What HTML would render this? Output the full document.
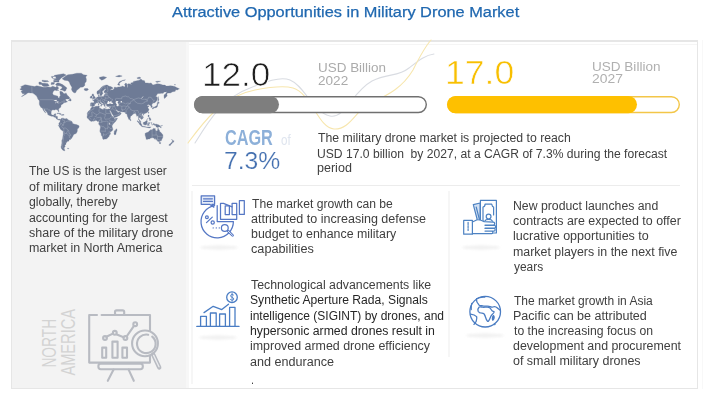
<!DOCTYPE html>
<html><head><meta charset="utf-8"><style>
html,body{margin:0;padding:0;background:#fff;}
body{width:707px;height:403px;position:relative;overflow:hidden;font-family:"Liberation Sans",sans-serif;}
.t{position:absolute;white-space:nowrap;line-height:1;transform-origin:0 0;}
.abs{position:absolute;}
</style></head><body>
<div class="abs" style="left:11px;top:40px;width:687px;height:349px;background:#e6e6e6;"></div>
<div class="abs" style="left:12px;top:42px;width:685px;height:346px;background:#fff;"></div>
<div class="abs" style="left:12px;top:44px;width:685px;height:1px;background:#f5f5f5;"></div>
<div class="abs" style="left:12px;top:42px;width:174px;height:346px;background:#f3f3f3;"></div>
<div class="abs" style="left:186px;top:42px;width:3px;height:346px;background:#f7f7f7;"></div>
<div class="abs" style="left:192px;top:184.5px;width:488px;height:1.2px;background:#ececec;"></div>
<div class="abs" style="left:191px;top:191px;width:1.5px;height:193px;background:#f6f6f6;"></div>
<div class="abs" style="left:702px;top:40px;width:1px;height:349px;background:#f8f8f8;"></div>
<div class="abs" style="left:448px;top:191px;width:1.5px;height:166px;background:#f6f6f6;"></div>
<svg class="abs" style="left:0;top:0" width="707" height="403" viewBox="0 0 707 403">
<path d="M19.8,89.2 21.6,88.1 20.7,86.7 23.4,85.4 25.0,84.7 27.0,85.1 30.1,85.8 32.3,86.1 34.5,86.6 36.8,85.8 39.0,86.2 41.2,86.7 43.4,87.3 45.7,87.3 47.9,86.9 51.0,87.3 52.3,86.2 53.7,86.6 55.5,87.3 56.8,86.2 58.1,86.9 58.6,88.5 56.3,90.3 54.6,90.3 53.2,91.6 52.6,93.6 53.4,94.9 55.5,95.6 57.9,96.2 58.1,97.7 59.2,98.3 59.5,96.8 60.4,95.6 60.1,94.3 59.9,92.7 59.9,91.3 61.7,91.4 62.8,92.3 63.7,93.6 65.3,93.8 65.9,92.8 67.3,95.2 69.0,96.8 69.8,98.0 68.8,98.9 67.9,99.0 66.1,99.0 65.0,99.4 65.9,99.7 65.7,100.6 67.5,101.7 65.3,102.6 63.5,102.7 63.2,103.7 61.7,104.4 61.0,105.4 60.8,106.2 61.0,107.0 59.9,107.8 58.6,108.9 58.6,110.1 59.0,111.2 58.8,111.9 58.3,111.3 57.8,110.6 57.7,110.0 57.0,109.7 56.1,109.5 55.0,109.5 54.8,110.1 54.1,110.0 52.8,109.8 51.4,110.7 51.2,112.0 51.1,113.4 51.4,114.4 52.3,115.1 53.7,115.1 54.3,114.6 54.3,113.9 55.9,113.7 55.7,115.1 55.4,116.2 56.3,116.2 57.5,116.6 57.4,118.4 58.3,119.3 59.2,119.1 60.1,119.5 59.9,120.1 58.8,120.1 57.7,119.6 56.5,118.9 55.7,117.5 54.1,117.1 52.8,116.2 51.7,116.3 50.1,115.7 48.6,115.1 47.7,114.4 47.6,113.2 46.5,111.8 45.2,110.6 44.4,108.9 43.7,108.9 43.9,110.1 45.0,111.6 45.7,113.0 44.8,112.3 43.9,110.9 43.2,109.9 42.5,108.4 41.9,107.7 40.9,107.4 40.3,106.2 39.5,104.9 39.3,103.6 39.4,101.4 39.1,100.1 39.9,99.7 39.0,99.2 37.9,98.6 36.8,96.5 35.4,94.9 34.1,94.0 32.3,93.1 30.5,93.0 28.7,92.7 27.2,93.3 26.1,94.3 24.7,94.9 22.5,96.2 21.4,96.5 22.9,95.6 24.3,94.6 24.7,93.8 22.5,93.8 22.3,93.0 21.2,92.0 21.4,91.0 22.9,89.9 21.2,89.9ZM59.0,82.9 62.6,84.6 64.8,86.2 67.0,88.1 66.1,89.5 65.5,91.0 64.4,91.3 62.6,90.3 61.7,89.9 60.1,89.9 62.1,88.1 62.1,86.9 59.9,85.8 56.8,85.8 55.5,84.6 57.2,82.9ZM42.1,83.3 44.8,83.3 47.9,83.7 49.2,85.8 46.5,86.6 43.9,86.6 42.1,85.4 41.6,84.2ZM39.0,82.0 41.2,82.3 42.5,84.2 39.4,84.6 38.8,83.3ZM54.6,79.8 59.0,80.4 61.2,77.9 66.1,75.0 63.5,73.7 54.6,75.3 52.3,77.9ZM53.7,80.2 59.0,80.5 59.0,82.0 53.7,81.9ZM51.4,82.5 54.6,82.5 54.1,84.2 51.0,84.6ZM42.1,80.2 47.9,80.7 48.8,81.6 44.8,82.0 42.1,81.2ZM51.4,76.4 55.5,76.4 56.3,78.4 53.7,78.8 51.9,77.9ZM55.9,89.2 59.0,90.3 56.3,90.6 55.9,89.9ZM62.1,78.8 64.4,80.2 67.9,80.7 69.3,82.0 70.1,84.2 71.0,85.8 71.9,87.3 71.5,89.5 72.4,91.3 73.3,92.3 75.0,93.1 75.7,92.5 76.8,90.3 78.2,89.2 80.4,87.3 83.1,86.9 84.8,85.4 84.8,83.3 86.2,81.6 86.4,79.3 85.7,76.9 87.1,75.3 83.5,74.8 81.3,73.2 76.8,73.2 72.4,74.3 67.9,74.8 65.7,75.9 64.4,76.9 62.6,78.4ZM84.0,89.2 84.8,88.5 87.5,88.5 88.4,89.2 88.0,90.0 86.6,90.7 84.8,90.4ZM56.8,113.5 58.1,112.9 60.4,113.4 61.6,114.3 60.1,114.5 58.8,113.5 57.0,113.7ZM61.5,115.1 62.6,114.5 63.9,114.5 64.2,115.1 63.0,115.3 61.5,115.3ZM68.2,100.5 69.7,99.3 69.9,98.2 71.0,99.4 71.2,100.6 70.7,101.0 69.9,100.9 69.3,100.5ZM60.2,119.6 60.8,119.1 61.0,118.7 61.7,118.3 62.6,117.9 62.8,118.4 63.5,118.2 64.4,118.7 65.7,118.8 67.0,118.6 67.5,119.3 68.8,120.2 70.1,120.7 71.5,121.1 71.9,121.6 72.4,122.5 72.4,123.3 73.3,123.8 74.8,124.3 76.4,124.6 77.5,125.0 79.0,125.7 79.1,126.7 78.9,127.5 78.2,128.2 77.4,129.1 77.3,131.2 76.8,132.3 76.4,133.2 75.5,133.7 74.6,134.0 73.3,134.9 73.0,136.0 72.4,137.0 71.3,138.7 70.6,139.4 69.5,139.4 69.0,140.2 69.0,141.1 67.0,141.5 66.9,142.4 65.7,142.6 66.1,143.2 65.7,144.7 64.6,145.4 65.3,146.2 64.2,147.7 64.2,148.9 65.0,150.5 64.1,150.8 63.0,150.2 61.7,149.0 61.0,146.9 61.5,145.2 61.9,143.1 61.8,140.6 62.6,138.7 62.8,137.0 63.3,133.9 63.3,131.6 62.8,131.1 60.8,129.6 60.1,128.4 59.2,126.7 58.4,125.5 59.0,124.7 58.8,123.8 59.0,122.9 59.6,122.5 60.1,121.6 60.2,120.2ZM90.7,106.2 90.4,105.3 90.7,103.6 90.5,103.0 91.1,102.7 92.9,102.8 94.0,102.8 94.1,101.4 93.5,100.7 92.5,100.1 94.0,99.9 94.1,99.3 94.7,99.4 95.4,98.9 96.2,98.3 96.6,97.7 96.9,97.2 97.8,97.1 98.5,96.8 98.5,95.9 98.2,95.1 99.1,94.5 99.3,95.4 99.1,96.2 99.5,96.8 100.7,96.6 101.8,96.6 102.9,96.4 104.0,96.2 104.0,95.2 104.4,94.6 105.3,94.8 105.3,94.0 105.1,93.5 107.1,93.3 108.0,93.1 107.6,92.9 105.8,92.8 104.7,93.0 104.1,92.3 104.2,91.0 105.8,89.5 106.0,89.0 104.7,89.0 104.0,89.9 103.1,90.6 102.4,91.3 102.3,92.3 103.0,93.0 102.9,93.5 102.0,94.6 101.8,95.4 101.1,95.6 100.3,95.9 100.2,95.2 99.9,94.3 99.5,93.6 99.3,93.3 98.2,94.3 97.3,94.2 97.0,93.3 96.9,92.3 97.1,91.3 98.2,90.6 99.1,89.9 100.2,88.8 100.9,87.7 101.8,86.9 103.1,85.9 104.9,85.4 106.2,85.0 107.3,85.1 108.4,85.8 109.3,86.3 110.7,86.6 112.5,87.5 113.0,88.5 111.6,88.8 110.1,89.9 110.9,90.3 111.6,89.7 112.7,89.9 114.2,88.8 114.2,87.3 115.1,87.2 116.5,87.6 118.2,86.9 119.1,87.1 120.5,86.7 121.4,86.9 121.8,85.9 123.1,86.3 124.9,86.9 125.1,85.4 124.5,84.6 125.4,83.3 126.7,83.5 126.9,85.0 127.6,87.7 128.0,86.9 127.4,84.3 128.5,83.7 130.3,84.0 131.6,85.0 130.7,82.9 133.2,82.5 133.4,81.4 136.9,80.7 139.2,80.2 141.0,79.1 142.3,80.2 144.5,80.7 145.2,82.9 147.2,82.9 149.4,83.3 151.2,82.9 152.1,84.2 153.0,85.0 154.8,84.6 157.0,83.7 159.7,83.9 161.4,84.6 162.8,85.1 165.0,85.1 166.1,86.1 168.1,86.1 170.3,85.8 172.6,86.0 174.8,86.6 177.0,87.7 179.4,88.8 177.9,89.5 177.7,90.0 175.7,89.7 175.2,91.3 174.3,91.4 172.6,91.8 171.7,92.3 170.3,93.0 168.6,93.0 167.4,93.1 166.8,94.3 167.2,95.4 166.8,96.3 165.9,97.3 165.0,98.0 164.4,98.6 164.1,97.4 164.0,95.6 164.5,94.4 165.2,94.3 166.3,92.8 167.2,91.8 165.9,91.9 164.1,92.0 163.2,93.3 161.4,93.3 159.7,93.5 157.9,93.6 157.0,94.5 155.6,96.8 156.8,96.7 157.4,97.7 157.2,99.2 157.0,100.3 156.1,101.4 154.8,102.8 153.4,103.0 152.8,103.3 152.3,104.1 151.6,104.9 152.3,106.2 152.2,107.1 151.2,107.4 150.9,107.4 151.0,106.2 150.3,105.7 150.1,104.7 149.0,105.2 148.5,104.2 147.6,105.0 147.1,105.2 147.5,105.9 147.6,106.2 148.3,105.8 149.2,106.2 148.1,106.9 147.8,107.3 148.4,108.7 148.9,109.3 148.9,109.9 148.3,110.9 147.9,111.8 146.7,112.7 145.4,113.3 143.8,113.9 143.6,114.2 143.4,113.6 142.3,113.7 141.8,114.4 141.7,114.9 142.1,115.5 143.1,116.4 143.3,118.0 142.5,118.7 141.4,119.5 141.3,118.9 140.5,118.4 140.2,117.9 139.5,117.4 139.2,117.8 138.8,118.9 139.3,119.8 139.4,120.2 140.1,120.6 140.7,121.3 140.7,122.2 141.0,122.7 140.6,122.8 139.7,122.1 139.3,121.1 139.3,120.5 138.5,119.7 138.5,118.9 138.5,118.0 138.1,116.1 137.9,115.8 136.7,116.2 136.6,115.0 135.8,114.0 135.6,113.3 134.9,113.4 134.0,113.6 133.3,114.0 132.5,114.7 131.3,115.9 130.4,116.6 130.4,117.5 130.2,118.8 129.4,119.7 129.2,119.7 128.7,119.3 128.3,118.0 127.8,116.9 127.4,116.2 127.1,114.8 127.0,113.8 126.0,114.0 125.4,113.3 125.9,113.0 125.1,112.7 124.3,111.9 122.2,111.9 120.8,111.8 120.2,111.7 119.7,111.1 118.9,111.3 117.6,110.7 117.0,109.7 116.0,109.7 116.2,110.4 116.9,111.3 117.3,112.1 117.6,112.4 117.6,111.6 118.0,112.4 118.7,112.5 119.6,111.6 119.7,112.2 120.8,112.7 121.3,113.2 120.7,114.1 120.4,114.8 119.8,115.3 119.3,115.6 117.8,116.2 116.5,116.9 114.7,117.6 113.9,117.7 113.7,116.4 113.6,116.0 113.0,115.0 112.1,113.7 111.9,113.2 111.3,112.1 110.9,111.6 110.2,110.6 110.1,109.9 109.9,110.6 109.6,110.5 109.1,109.7 109.0,109.1 109.9,109.0 110.2,108.2 110.6,106.9 110.7,106.3 110.0,106.3 109.1,106.6 108.2,106.5 107.1,106.3 106.8,105.8 106.4,105.4 106.4,104.5 106.2,104.2 105.3,104.3 104.9,104.5 104.7,104.4 104.9,105.2 105.3,105.6 104.9,106.0 104.7,106.5 104.3,106.3 104.2,105.6 103.9,105.3 103.5,104.8 103.3,104.1 103.3,103.6 102.9,103.3 102.2,102.9 101.5,102.5 101.1,101.8 100.7,101.6 100.1,101.8 100.1,102.2 100.7,102.8 101.1,103.5 101.8,103.9 102.9,104.5 102.2,104.4 102.0,105.2 101.6,105.7 101.7,104.9 101.3,104.5 100.8,104.0 100.0,103.7 99.5,103.3 99.3,102.9 98.6,102.3 98.0,102.6 97.3,103.0 96.6,102.8 96.1,103.0 96.0,103.7 95.0,104.1 94.6,104.7 94.5,105.5 94.3,105.9 93.7,106.3 92.7,106.3 92.1,106.7 91.8,106.3 91.3,106.1ZM92.1,99.2 93.3,98.8 95.3,98.5 95.4,97.6 94.8,97.1 94.6,96.5 93.9,95.8 93.7,94.9 93.8,94.5 92.9,94.5 93.3,93.9 92.4,93.9 92.1,94.7 91.9,95.4 92.4,96.0 93.3,96.2 93.2,96.8 93.3,97.2 92.6,97.3 92.8,97.7 92.3,98.2 93.3,98.3 92.8,98.5ZM92.0,98.0 91.9,97.2 92.1,96.5 91.8,96.1 90.9,96.1 90.3,96.9 90.1,98.1 91.1,98.2ZM100.2,105.7 101.6,105.5 101.4,106.3 100.2,105.8ZM98.4,105.2 98.9,105.2 99.0,104.1 98.3,104.1ZM98.5,103.4 98.9,103.2 98.8,103.9 98.6,103.8ZM105.1,106.9 106.4,107.0 106.2,107.2 105.1,107.1ZM109.0,107.2 110.0,106.9 109.8,107.4 109.1,107.3ZM117.6,84.6 118.2,85.1 120.0,85.3 119.1,83.7 120.0,82.5 122.2,80.9 124.9,80.2 125.4,79.8 123.1,80.2 120.5,81.2 119.1,82.0 118.5,83.3 117.8,84.2ZM99.5,78.4 101.8,80.2 104.0,79.3 106.7,77.4 103.5,76.4 100.9,77.1 99.5,77.2ZM115.6,76.4 119.1,75.3 122.2,76.1 119.1,76.9ZM136.9,77.9 139.2,77.1 141.0,77.9 139.2,78.8 137.4,78.6ZM155.6,81.6 157.9,81.2 160.5,81.3 157.0,82.5ZM174.1,84.6 175.7,84.7 175.0,85.1ZM157.9,101.4 158.5,101.1 158.3,99.7 159.0,99.7 158.3,98.0 158.3,96.6 158.1,96.7 157.9,98.6 157.9,100.3ZM157.0,103.8 157.4,103.9 157.8,103.3 158.5,103.6 159.4,102.9 159.0,102.5 157.9,101.7 157.7,102.3 157.6,102.9 157.2,102.9 157.0,103.4ZM157.4,104.0 157.6,104.4 157.9,104.9 157.4,105.7 157.3,106.3 157.3,106.9 156.9,107.2 156.4,107.4 155.6,107.4 155.6,107.9 154.8,107.8 154.4,107.4 153.6,107.5 153.0,107.7 152.9,107.5 153.6,107.0 155.0,106.9 155.4,106.2 155.8,106.3 156.3,106.0 156.8,105.4 157.0,104.5 157.1,104.0ZM152.4,107.9 153.0,107.7 153.4,108.2 153.2,109.0 152.6,109.1 152.4,108.3ZM153.6,108.2 154.6,107.6 154.6,107.8 153.9,108.3ZM148.1,113.0 148.5,111.9 149.0,112.0 148.5,113.4ZM143.0,114.7 143.8,114.3 144.1,114.5 143.4,115.2ZM148.1,115.1 149.1,115.1 149.0,116.1 148.7,117.0 149.9,117.5 149.4,117.3 148.3,117.0 148.1,116.2ZM149.0,120.2 151.0,120.2 150.8,119.1 150.5,119.0 149.6,119.5 149.0,120.0ZM149.0,118.2 150.1,117.8 150.6,118.4 149.9,119.0 149.2,118.9 149.0,118.4ZM146.8,119.6 147.9,118.3 147.8,118.7 147.1,119.6ZM143.2,122.5 143.6,122.6 144.1,122.1 145.0,121.9 145.4,121.3 146.1,121.0 146.7,120.3 147.1,120.7 147.7,121.0 147.2,121.4 147.0,121.9 147.2,122.9 147.6,122.9 147.0,123.6 146.5,124.3 146.4,125.0 145.6,125.1 145.0,124.7 144.4,124.7 143.7,124.6 143.6,123.9 143.2,123.4ZM137.1,120.8 138.1,121.0 138.4,121.5 139.3,122.4 139.7,122.4 140.7,123.1 141.2,123.8 141.8,124.7 141.8,125.9 141.2,125.9 140.2,125.1 139.6,124.4 139.2,123.6 138.7,123.0 137.9,122.0 137.0,121.1ZM141.5,126.3 142.1,126.0 142.8,126.1 143.8,126.4 144.7,126.4 145.6,126.8 145.6,127.2 144.1,127.0 142.7,126.8 142.1,126.6 141.6,126.4ZM145.8,127.0 147.6,127.0 148.1,127.1 149.4,127.0 150.3,126.9 151.2,127.0 150.3,127.5 149.6,127.9 148.1,127.7 146.3,127.3ZM147.8,125.8 148.3,125.8 148.2,124.6 148.6,124.6 148.9,125.4 149.4,125.2 149.0,124.7 148.7,124.1 149.3,124.0 149.6,123.7 148.9,123.7 148.3,123.9 148.1,123.2 148.7,123.1 149.9,123.2 150.3,122.7 150.1,122.8 148.4,122.8 148.0,123.2 147.8,123.7 147.5,124.6ZM151.4,122.4 152.0,122.7 151.6,123.3 151.9,123.7 151.4,123.6 151.5,122.9ZM151.6,124.7 152.9,124.8 152.8,125.0 151.7,124.9ZM153.0,123.9 153.6,123.5 154.4,123.7 154.8,124.8 155.9,124.0 157.4,124.5 159.0,125.0 159.7,125.8 160.3,126.0 160.5,126.9 161.4,127.9 161.0,128.0 159.7,126.9 158.9,126.7 158.5,127.3 157.4,127.4 156.5,126.9 156.1,127.1 156.0,125.7 155.0,125.3 153.9,125.1 153.4,124.6 154.1,124.3 153.4,124.3ZM160.7,125.8 161.7,125.8 162.3,125.2 162.5,125.3 162.1,125.8 161.4,126.1 160.8,126.0ZM145.2,133.2 145.1,135.1 145.5,136.3 145.8,137.3 146.2,138.7 145.8,139.1 147.1,139.5 148.0,139.0 149.6,138.9 150.7,138.1 152.1,137.8 153.1,137.7 154.3,138.4 155.0,139.4 155.4,138.7 156.0,138.2 155.9,139.6 156.3,139.3 156.8,139.9 157.2,141.0 158.5,141.4 159.8,141.6 160.5,140.9 161.4,140.7 161.5,140.0 162.0,138.9 162.7,137.7 163.0,136.1 162.8,134.8 161.8,133.5 161.0,132.5 159.8,131.8 159.4,130.5 159.3,129.9 158.6,129.6 158.1,128.1 157.7,129.1 157.6,130.2 157.3,131.1 156.7,131.1 155.9,130.4 155.0,129.9 155.6,128.8 155.2,128.7 154.1,128.5 153.4,128.4 152.7,128.9 152.4,129.9 151.7,130.0 151.1,129.5 150.5,129.8 150.1,130.6 149.1,131.1 148.5,132.1 147.0,132.6 145.7,133.1ZM159.0,142.4 160.7,142.5 160.5,143.7 160.0,143.9 159.3,143.2ZM171.5,139.2 172.4,140.1 173.0,140.7 174.1,140.8 173.9,141.6 173.4,142.0 172.7,142.9 172.4,142.7 172.6,142.1 172.0,141.6 172.4,141.0 172.3,140.2ZM171.5,142.3 172.3,142.7 172.1,143.2 171.5,143.9 170.9,144.3 170.6,145.2 170.0,145.6 168.8,145.2 169.2,144.4 170.6,143.6 171.2,142.8ZM130.2,119.0 130.7,119.6 131.1,120.1 131.0,120.6 130.5,120.7 130.2,120.2 130.2,119.6ZM109.1,109.7 109.0,109.1 108.4,108.9 108.0,109.0 107.6,109.2 105.8,108.9 104.9,108.4 103.6,108.6 103.5,109.2 103.1,109.5 101.5,108.9 100.5,108.2 99.5,108.1 99.1,107.6 99.5,107.0 99.2,106.3 99.5,106.1 98.9,106.0 97.8,106.2 96.0,106.3 94.2,106.9 93.5,107.1 92.2,106.7 91.9,106.8 91.6,107.7 90.9,108.1 90.4,109.5 90.2,110.1 89.5,110.6 88.9,110.8 88.2,111.6 87.7,112.5 87.5,112.6 87.1,113.9 87.4,114.6 87.3,116.1 87.0,116.8 87.2,117.5 87.2,117.9 88.0,118.4 88.6,119.0 88.9,119.6 89.5,120.3 90.6,121.1 91.3,121.4 92.9,121.0 93.7,121.2 95.3,120.6 96.6,120.5 97.1,121.1 97.5,121.4 98.4,121.3 98.9,121.6 99.0,122.2 98.8,123.3 98.6,124.1 99.5,125.0 100.1,125.9 100.5,127.1 100.2,128.9 99.9,130.5 99.9,131.4 100.4,132.5 101.1,133.6 101.3,135.3 102.0,136.3 102.6,137.7 102.8,138.9 102.9,139.1 103.5,139.4 104.7,139.0 106.1,139.0 106.9,138.6 108.0,137.6 109.1,136.3 109.3,135.1 110.4,134.2 110.4,133.2 110.1,132.3 111.0,131.4 112.2,130.7 112.8,129.8 112.7,128.2 112.2,127.1 112.0,126.0 112.4,125.1 112.9,124.2 113.6,123.6 114.2,122.7 115.3,121.8 116.2,120.5 117.1,118.9 117.5,118.1 116.7,118.3 115.6,118.5 114.2,118.7 113.9,118.1 113.6,117.5 112.7,116.5 112.0,115.8 111.3,115.1 111.2,113.9 111.0,113.4 110.4,112.5 110.0,111.7 109.6,110.9 109.2,109.9ZM116.6,128.7 117.1,130.2 116.8,130.7 116.2,132.5 115.8,134.4 114.8,134.9 114.1,133.9 114.0,133.0 114.4,132.1 114.2,130.9 115.3,130.4 116.0,129.3ZM67.3,148.2 68.9,148.4 68.6,148.9 67.7,148.8ZM37.5,98.7 39.0,100.0 39.7,100.1 38.8,99.0Z" fill="#6e7b96" stroke="#6e7b96" stroke-width="0.3" stroke-linejoin="round"/>
<path d="M116.5,101.1 117.4,100.9 118.2,101.0 118.3,101.8 117.5,102.1 118.2,103.6 118.7,104.4 118.6,106.0 117.4,106.3 116.5,105.9 116.7,104.6 117.0,104.5 116.0,103.6 115.8,103.0 115.6,102.2 115.8,101.6ZM107.1,103.8 107.6,104.0 108.7,104.0 109.6,103.6 110.4,103.6 111.6,104.1 113.1,103.8 113.2,103.3 112.5,102.8 111.6,102.2 110.9,101.9 110.4,102.0 109.6,102.2 109.1,101.8 109.6,101.4 108.7,101.1 108.2,101.1 107.8,101.8 107.4,102.5 107.1,103.2ZM110.2,101.8 110.2,101.2 111.8,100.8 111.6,101.4 110.9,101.9ZM53.7,101.0 55.0,100.1 56.3,99.8 57.0,100.9 55.9,101.1ZM55.5,103.6 55.8,101.4 56.6,101.5 56.2,103.0ZM57.0,102.8 57.2,101.4 58.6,101.5 58.3,102.6ZM120.7,101.1 122.0,101.1 121.8,102.5 120.9,102.5ZM108.9,123.3 109.8,123.3 109.8,124.6 108.9,124.4ZM141.0,98.2 141.8,97.7 143.4,95.9 143.6,95.9 142.3,98.0 141.2,98.4Z" fill="#f3f3f3"/>
<path d="M39.9,99.7 52.3,99.7 55.0,100.3 57.0,101.1 57.9,101.7 57.9,103.6 59.5,102.9 60.8,102.5 61.4,102.0 62.8,102.0 63.7,100.6 64.4,100.7 64.4,101.6 64.8,102.0M31.9,86.1 31.9,92.8 33.6,93.6 35.4,95.6 36.8,95.9M42.5,108.4 43.6,108.3 45.2,109.0 46.5,109.0 47.2,108.8 48.3,109.9 49.0,109.7 49.7,109.9 50.3,110.9 51.4,111.6M53.6,116.9 53.7,115.4 54.1,115.4 54.9,115.4 55.3,115.1M71.7,121.4 67.9,121.0 66.1,121.6 64.8,122.7 63.6,122.6 63.7,123.8 63.5,125.2 62.1,125.5 61.7,126.7 62.4,127.8 63.7,128.2 65.5,127.8 66.4,128.9 67.7,129.5 67.9,130.6 68.7,130.6 69.0,132.3 68.8,133.2 69.9,133.5 70.4,134.9 70.7,135.5 69.5,136.3 69.0,137.1 70.1,137.7 70.9,138.8M64.1,148.9 62.6,147.5 62.0,145.8 62.7,144.2 62.8,142.0 63.2,140.0 63.5,138.5 63.2,136.5 64.1,135.6 64.2,134.2 64.7,133.6 66.8,133.3 67.5,134.1 68.8,135.7 70.4,134.9M63.7,128.2 63.9,130.0 63.7,131.2 63.3,131.5M64.7,133.6 64.1,131.6 63.7,131.2M62.6,118.4 62.4,120.1 64.6,120.7 64.4,122.4 63.6,122.6M58.9,124.8 59.7,125.5 61.0,123.8 61.1,123.3 62.1,124.4 63.5,125.2M60.1,123.0 61.1,123.3M67.9,130.6 66.8,132.3 66.8,133.3M100.0,93.6 100.2,92.0 100.0,90.6 101.1,89.2 102.0,87.7 103.5,86.6 104.4,86.6M105.3,89.0 105.1,87.7 104.0,86.6M107.3,86.2 107.6,88.1 108.0,91.0 107.1,92.3M107.1,93.3 106.9,94.6 107.1,95.6 108.4,95.9 108.9,97.4 110.2,97.8 110.7,98.9 112.5,99.2 112.5,100.3 111.8,100.8M116.0,101.1 115.6,99.7 115.3,98.9 116.9,98.3 119.1,98.6 121.8,98.7 121.8,97.1 123.6,96.4 125.8,96.0 127.1,96.8 128.5,96.8 129.4,97.6 130.3,98.6 131.8,98.6 133.6,99.6M133.6,99.6 135.6,98.9 138.3,98.0 140.1,98.3 142.7,99.4 145.4,99.2 146.7,99.3 147.9,99.2 148.7,97.2 151.2,97.4 153.0,100.3 154.5,100.1 153.0,102.0 153.0,103.3 152.8,103.4M133.6,99.6 135.2,101.7 137.6,103.3 141.4,103.8 144.1,103.0 144.3,102.0 146.3,101.5 147.9,100.9 147.1,100.2 146.3,100.3 145.6,99.2M127.4,104.9 128.0,106.2 129.4,106.9 130.0,108.4 130.7,109.6 132.5,110.5 133.8,110.7 135.6,110.7 137.8,110.5 138.5,112.0 138.3,112.5 139.6,113.7 140.1,113.2 141.8,113.1 142.7,113.7M127.4,104.9 128.0,104.4 130.3,103.6 130.5,102.0 131.6,100.9 132.7,100.9 133.6,99.6M118.2,103.7 119.6,104.0 120.5,101.7 121.8,102.5 124.0,103.0 125.6,104.1 126.3,103.4 127.8,103.0 130.3,103.6M114.2,104.9 114.5,105.9 114.9,107.2 115.3,108.2 116.0,109.4M118.6,106.0 119.8,105.7 121.8,106.4 121.8,107.4 121.7,109.7 122.5,110.0 122.0,111.9M121.7,109.7 124.0,109.9 125.6,108.9 125.8,107.7 126.5,106.4 127.8,106.2M121.8,106.4 123.6,106.0 124.9,106.1 126.5,106.4M125.0,112.6 126.3,112.3 125.8,110.6 127.6,109.2 128.0,108.4 128.9,106.9M130.3,109.7 130.7,109.6M134.0,111.4 133.8,112.5 134.2,113.4M135.8,113.9 135.6,112.5 134.7,111.9 134.0,111.4M138.5,118.9 138.7,116.2 138.3,115.5 139.2,114.2M140.1,113.2 141.0,114.8 142.3,116.2 142.5,117.1 141.8,118.4M140.3,118.0 140.7,117.0 141.6,117.0M139.2,114.2 139.6,115.3 140.5,115.3 141.6,117.0M110.9,109.9 112.0,108.7 113.3,109.1 114.5,110.0 115.3,110.1 116.0,110.4M113.8,115.6 115.3,115.6 117.8,114.8 119.4,114.4 119.6,113.2M110.7,106.3 111.6,106.3 113.5,106.1 114.6,106.1M113.5,106.1 112.9,107.4 112.0,108.5M106.4,103.8 107.1,103.6M93.8,102.9 94.9,103.2 96.1,103.4M91.5,103.6 91.5,104.9 91.3,105.9M95.8,98.6 96.6,99.2 97.3,99.4 98.2,99.7 98.0,100.5 97.3,101.2 97.8,101.7 98.0,102.5M101.0,96.8 101.2,98.0 101.3,98.6M97.3,98.1 97.3,98.9 97.3,99.4M100.0,99.0 100.8,99.9 100.4,100.6 99.1,100.6 98.0,100.5M101.3,98.6 103.1,99.4 104.7,99.7M102.2,100.0 102.2,101.1 103.1,101.5 104.0,101.4 104.7,100.3 104.7,99.7M97.8,101.5 99.1,101.1 100.2,100.9 100.7,101.1M103.3,102.0 104.7,102.4 104.9,103.0 104.7,104.0 106.4,103.8M104.7,100.3 106.4,100.1 107.3,101.1 107.8,101.8M105.1,96.8 105.2,98.0 105.3,98.9 104.7,99.7M105.2,98.0 107.1,98.2 108.7,97.9 108.9,97.4M104.0,95.6 106.2,95.7 106.9,95.4 107.1,94.4M98.5,96.2 99.1,96.3M105.8,108.9 105.8,113.4 111.1,113.4M99.8,108.1 99.1,109.7 98.9,111.3 99.9,112.7M99.9,112.7 101.3,113.0 105.3,114.6 105.3,114.4 105.8,114.4M93.9,107.2 94.0,108.7 93.0,109.4 90.8,110.4 90.8,110.9M92.5,112.0 95.1,113.9 96.5,114.7 97.3,114.6 99.9,112.7M87.1,113.8 88.9,113.8 88.9,113.0 89.3,111.6 90.8,110.9M89.3,116.7 89.6,116.4 92.2,116.4 92.2,116.0 91.7,112.1 92.5,112.0M96.5,114.7 96.2,116.5 95.1,116.6 94.6,116.7M96.2,118.1 97.8,117.5 99.1,117.4 100.7,117.3 101.1,117.5M105.3,114.6 105.1,116.3 104.4,117.8 104.7,118.4 105.1,119.3M105.1,119.3 106.7,119.1 109.3,118.9 109.8,118.7M109.8,118.7 110.9,117.0 111.6,116.9 113.2,117.5M109.3,119.8 110.2,121.1 113.2,121.6 113.8,121.2 116.0,119.8 113.9,119.1M101.1,120.7 103.1,121.4 104.7,121.5 106.9,121.1 108.2,121.7M108.2,121.7 107.8,124.0 107.6,125.3 108.2,127.1 107.3,127.3 107.3,128.2 107.8,128.9 106.7,128.7 105.3,128.2 104.4,127.8 103.5,126.4 102.4,126.9 101.8,126.0 100.1,125.9M99.9,131.0 105.1,131.3 105.9,131.3M103.5,133.2 103.5,136.0 102.2,136.3M103.5,134.6 105.8,135.0 107.6,133.3M109.3,130.9 109.1,133.4 108.6,133.4M112.6,128.0 111.3,128.5 110.0,128.4M112.1,125.4 109.8,123.8 109.7,123.8 109.8,121.5M112.9,124.1 112.9,122.1 113.3,121.6M88.5,117.7 90.0,117.9 90.9,118.8 91.1,119.6M93.3,121.1 93.4,119.1 94.4,118.4 94.7,118.4 95.2,120.6M98.4,121.2 98.9,120.5 99.9,120.2 100.7,118.8 101.1,117.6M101.1,117.5 101.5,119.1 101.1,120.7 101.8,122.4 102.7,121.8M99.0,122.3 99.7,122.4 100.4,122.4 101.8,122.4M105.3,128.2 105.3,131.3M108.2,127.1 109.3,127.5 110.0,128.4M152.1,130.0 152.1,137.8M152.1,135.1 157.4,135.1M156.1,130.9 156.1,135.1M157.4,135.1 157.4,136.5 163.0,136.3M157.4,136.5 157.4,141.0M157.4,139.0 161.4,140.7" fill="none" stroke="#e6e9ef" stroke-width="0.45" stroke-opacity="0.45"/>
<defs><filter id="blur1" x="-20%" y="-200%" width="140%" height="500%"><feGaussianBlur stdDeviation="1"/></filter></defs>
<!-- wavy decorative lines -->
<g fill="none" stroke-width="1.1" stroke-linecap="round">
<path d="M195,143 C208,122 222,98 250,88 C265,82 280,76 290,80 C305,86 312,112 330,116 C345,119 352,92 372,81 C388,73 398,77 409,68 C418,61 425,55 434,54" stroke="#d9dce2"/>
<path d="M188,143 C202,124 222,96 255,90 C270,87 283,85 293,88 C312,94 318,128 334,129 C350,130 356,110 369,104 C385,96 401,90 413,70 C419,58 424,48 431,40" stroke="#f7e6ad"/>
</g>
<!-- bars -->
<rect x="194.7" y="96.7" width="231.6" height="15.8" rx="7.9" fill="#fff" stroke="#707070" stroke-width="1.4"/>
<rect x="194" y="96" width="85" height="17.2" rx="8.6" fill="#7e7e7e"/>
<rect x="447.7" y="96.7" width="231.6" height="15.8" rx="7.9" fill="#fff" stroke="#f3c648" stroke-width="1.4"/>
<rect x="447" y="96" width="190" height="17.2" rx="8.6" fill="#fec000"/>
<!-- shadows -->
<g fill="#eeeeee" opacity="0.8" filter="url(#blur1)">
<ellipse cx="219" cy="247.5" rx="19" ry="2.2"/>
<ellipse cx="218" cy="337.5" rx="19" ry="2.2"/>
<ellipse cx="481" cy="247.5" rx="19" ry="2.2"/>
<ellipse cx="485" cy="335.5" rx="19" ry="2.2"/>
</g>
<!-- icon1: pie + bars + bubble -->
<g fill="none" stroke="#5577c4" stroke-width="1.25" stroke-linejoin="round" stroke-linecap="round">
<path d="M214.6,205.6 A16.2,16.2 0 1 0 233.4,221.6 L217.2,221.6 V205.6"/>
<path d="M201.2,195.8 H214.6 V204.3 H212 L213.8,207.2 L209.6,204.3 H201.2 Z" fill="#e4ebf8"/>
<path d="M203.5,198.8 H212.4 M203.5,201.4 H212.4"/>
<path d="M220.5,203.3 V219.3 H236.7 V214.6 M220.5,203.3 H223.5 L232.1,206.8"/>
<rect x="225.2" y="205.9" width="4.2" height="8.7"/>
<rect x="232.1" y="203.3" width="4.6" height="11.3"/>
<rect x="239.4" y="200.5" width="4.9" height="13.9"/>
<circle cx="206.9" cy="217.2" r="1.4"/>
<circle cx="212.7" cy="222.5" r="1.6"/>
<path d="M206.5,222.6 L212.3,217.1"/>
<circle cx="224.8" cy="227.9" r="3.4" fill="#fff"/>
<path d="M228.3,231.3 L232.6,235.4" stroke-width="2.6"/>
<path d="M228.3,231.3 L232.6,235.4" stroke-width="0.8" stroke="#fff"/>
</g>
<g fill="#5577c4"><circle cx="213.2" cy="227.9" r="0.7"/><circle cx="216.3" cy="227.9" r="0.7"/><circle cx="219.3" cy="227.9" r="0.7"/></g>
<!-- icon2: bars + trend + coin -->
<g fill="none" stroke="#4a7dc4" stroke-width="1.3" stroke-linejoin="round" stroke-linecap="round">
<path d="M196.8,326.4 H239"/>
<path d="M200.6,326.4 V316.3 H206.4 V326.4 M210.4,326.4 V313 H216.2 V326.4 M219.6,326.4 V314 H225.4 V326.4 M229.6,326.4 V307.4 H235 V326.4"/>
<path d="M204,312.6 L213.2,306.3 L221.8,309.6 L228.5,304.2"/>
<circle cx="232" cy="297.2" r="5.3"/>
<path d="M233.6,295 C232.8,294 230.6,294.2 230.6,295.8 C230.6,297.8 233.8,297 233.8,299 C233.8,300.5 231.4,300.6 230.4,299.5 M232.1,293.2 V301.2" stroke-width="0.9"/>
</g>
<!-- icon3: hand with money -->
<g fill="none" stroke="#4d82c2" stroke-width="1.2" stroke-linejoin="round" stroke-linecap="round">
<path d="M473.3,204.6 L480.2,203 L480.2,221 L477.6,221 Z" fill="#d3e1f3"/>
<path d="M476.2,207 L479.4,219.4"/>
<rect x="480.4" y="200.4" width="16" height="32.6" fill="#fff"/>
<path d="M485.1,204.1 H491.7 C492,205.8 492.6,206.8 493.6,207 V215 M483,207 C484.4,206.8 485,205.6 485.1,204.1 M483,207 V221"/>
<circle cx="488.6" cy="216.6" r="2.4"/>
<path d="M484.6,221.2 C485.4,219.8 486.8,219.4 488.6,219.4 C490.4,219.4 491.8,219.8 492.6,221.2"/>
<path d="M472.4,222 L477.1,219.8 C479.5,219.6 482,220.4 484.2,221.6 L493,222.2 L495,224 L495.4,230 L492.6,233.6 H472.4 Z" fill="#fff" stroke="none"/>
<rect x="463.7" y="220.4" width="8.7" height="13.8" fill="#fff"/>
<path d="M468.1,222.4 V230.4" stroke-dasharray="2.2 1"/>
<path d="M472.4,222 L477.1,219.8 C479.5,219.6 482,220.4 484.2,221.6 L493.2,222.2 C495.2,222.4 495.2,225 493.2,225.1 H485 M485,225.3 H494.4 C496.2,225.6 496.2,228 494.4,228.2 H485 M485,228.4 H494 C495.6,228.7 495.6,231 494,231.1 H485 M486.5,231.2 H491.8 C493.2,231.5 493.2,233.6 491.8,233.6 H472.4" fill="#fff"/>
</g>
<!-- icon4: globe -->
<g fill="none" stroke="#4a7cc2" stroke-width="1.3" stroke-linejoin="round" stroke-linecap="round">
<circle cx="485.2" cy="311.7" r="15.3"/>
<path d="M476.6,298.8 C478.5,297.6 481.8,297 484.8,297.2"/>
<path d="M476.4,299.2 C476.2,301.4 477.6,303.6 479.2,305.2 C480.6,306.2 482.2,305.4 483.6,306 C485.6,306.6 487.4,305.8 489.2,306.4 C490.6,306.9 491.6,307.6 492.8,307 C494.4,306.4 496,306.6 497.4,308 C498.4,309 499.4,309.6 500.2,310.2"/>
<path d="M479.2,307 C478,308.2 477.6,309.8 478.1,311.2 C478.8,312.6 480.4,313.2 482,313.2 C483.6,313.2 484.6,314.2 485,315.8 C485.6,317.6 486.2,319.6 487.4,321.2 C488.3,321.8 488.9,320.8 489.4,319.6 C490.2,317.6 490.8,315.8 492.2,314.4 C493.4,313.4 494.4,312.4 494,311.6 C492.6,311.4 491.6,310.4 491,309.2 C490.4,307.8 489,307.3 487.4,307.2 C485.4,307 483.4,307.6 481.6,307 C480.8,306.8 479.9,306.6 479.2,307 Z"/>
<path d="M493.6,315.6 C494.6,316.6 494.2,319.2 492.8,320.2 C492,319 492.4,316.6 493.6,315.6 Z" fill="#4a7cc2"/>
<path d="M471.8,303.4 C471.2,305.4 471,307.6 471.2,309.6"/>
<path d="M470.6,314.2 C472.4,314.4 475,315 476.6,316.6 C477.2,318.2 476.6,320 476.2,321.2 C475.6,322.4 474.8,323.4 474,324.4"/>
<circle cx="494.6" cy="324.2" r="0.4"/>
</g>
<!-- north america board icon -->
<g fill="none" stroke="#b8bbc2" stroke-width="2.1" stroke-linejoin="round" stroke-linecap="round">
<path d="M97,315 H89.2 V362.6 H150 V315 H101.6"/>
<rect x="115" y="310.4" width="9.2" height="4.6" rx="1.5"/>
<rect x="98.4" y="363.6" width="44.4" height="5.6" rx="2.4"/>
<path d="M113.6,369.6 L107.8,380.8 M128.6,369.6 L133.8,380.8"/>
<rect x="102.2" y="347.6" width="4" height="10.2"/>
<rect x="112.4" y="341.6" width="5.2" height="16.2"/>
<rect x="122.4" y="347.6" width="4.6" height="10.2"/>
<path d="M106.4,336.8 L112.8,333.6 M116.8,334.6 L123.6,337.2 M127.2,335.6 L133.8,326.2"/>
<circle cx="105" cy="338" r="1.9"/>
<circle cx="114.8" cy="332.8" r="1.9"/>
<circle cx="125.4" cy="338" r="1.9"/>
<circle cx="135.2" cy="324.2" r="1.9"/>
<circle cx="145" cy="343.4" r="12.9" fill="#f3f3f3"/>
<path d="M152.2,336.6 A9.3,9.3 0 1 1 148.2,334.7" />
<path d="M153.2,354.6 L159.2,367.4" stroke-width="4.4"/>
<path d="M153.6,355.4 L159,366.8" stroke-width="1.3" stroke="#ebecee"/>
</g>
<g font-family="Liberation Sans, sans-serif" fill="#d3d3d3" font-size="19.3">
<text transform="translate(55.9,367.6) rotate(-90)" textLength="48.8" lengthAdjust="spacingAndGlyphs">NORTH</text>
<text transform="translate(75.3,375.6) rotate(-90)" textLength="66.6" lengthAdjust="spacingAndGlyphs">AMERICA</text>
</g>

</svg>
<div class="t" id="title" style="left:171.60px;top:3.63px;font-size:15.2px;color:#2068b0;font-weight:400;transform:scaleX(1.0768);-webkit-text-stroke:0.25px #2068b0;">Attractive Opportunities in Military Drone Market</div>
<div class="t" id="lp0" style="left:29.00px;top:164.89px;font-size:12.3px;color:#404040;font-weight:400;transform:scaleX(0.9693);">The US is the largest user</div>
<div class="t" id="lp1" style="left:29.00px;top:180.59px;font-size:12.3px;color:#404040;font-weight:400;transform:scaleX(1.0196);">of military drone market</div>
<div class="t" id="lp2" style="left:29.00px;top:195.89px;font-size:12.3px;color:#404040;font-weight:400;transform:scaleX(0.9995);">globally, thereby</div>
<div class="t" id="lp3" style="left:29.00px;top:211.59px;font-size:12.3px;color:#404040;font-weight:400;transform:scaleX(1.0051);">accounting for the largest</div>
<div class="t" id="lp4" style="left:28.60px;top:226.89px;font-size:12.3px;color:#404040;font-weight:400;transform:scaleX(1.0158);">share of the military drone</div>
<div class="t" id="lp5" style="left:28.60px;top:242.29px;font-size:12.3px;color:#404040;font-weight:400;transform:scaleX(1.0113);">market in North America</div>
<div class="t" id="n120" style="left:201.52px;top:58.50px;font-size:32.6px;color:#1e1e1e;font-weight:400;transform:scaleX(1.0770);-webkit-text-stroke:0.7px #fff;">12.0</div>
<div class="t" id="n170" style="left:445.08px;top:57.00px;font-size:32.6px;color:#f8bf00;font-weight:400;transform:scaleX(1.0910);-webkit-text-stroke:0.6px #fff;">17.0</div>
<div class="t" id="usd1" style="left:317.97px;top:61.88px;font-size:12.9px;color:#ababab;font-weight:400;transform:scaleX(1.0438);">USD Billion</div>
<div class="t" id="y22" style="left:317.76px;top:74.78px;font-size:12.9px;color:#ababab;font-weight:400;transform:scaleX(1.0541);">2022</div>
<div class="t" id="usd2" style="left:591.77px;top:61.38px;font-size:12.9px;color:#b0b0b0;font-weight:400;transform:scaleX(1.0502);">USD Billion</div>
<div class="t" id="y27" style="left:591.73px;top:73.48px;font-size:12.9px;color:#b0b0b0;font-weight:400;transform:scaleX(1.0782);">2027</div>
<div class="t" id="cagr" style="left:225.18px;top:127.15px;font-size:21.2px;color:#8db0d9;font-weight:700;transform:scaleX(0.7671);">CAGR</div>
<div class="t" id="of" style="left:280.56px;top:133.15px;font-size:14px;color:#dfe5ef;font-weight:400;transform:scaleX(0.8310);">of</div>
<div class="t" id="pct" style="left:224.21px;top:149.59px;font-size:23.4px;color:#4470b0;font-weight:400;transform:scaleX(1.0563);-webkit-text-stroke:0.2px #fff;">7.3%</div>
<div class="t" id="d1" style="left:317.80px;top:132.09px;font-size:12.3px;color:#404040;font-weight:400;transform:scaleX(0.9970);">The military drone market is projected to reach</div>
<div class="t" id="d2" style="left:316.80px;top:147.59px;font-size:12.3px;color:#404040;font-weight:400;transform:scaleX(0.9852);">USD 17.0 billion&nbsp; by 2027, at a CAGR of 7.3% during the forecast</div>
<div class="t" id="d3" style="left:316.76px;top:162.19px;font-size:12.3px;color:#404040;font-weight:400;transform:scaleX(1.0196);">period</div>
<div class="t" id="b1_0" style="left:251.60px;top:197.69px;font-size:12.3px;color:#404040;font-weight:400;transform:scaleX(0.9856);">The market growth can be</div>
<div class="t" id="b1_1" style="left:250.60px;top:213.09px;font-size:12.3px;color:#404040;font-weight:400;transform:scaleX(1.0199);">attributed to increasing defense</div>
<div class="t" id="b1_2" style="left:250.59px;top:228.19px;font-size:12.3px;color:#404040;font-weight:400;transform:scaleX(1.0066);">budget to enhance military</div>
<div class="t" id="b1_3" style="left:250.58px;top:242.89px;font-size:12.3px;color:#404040;font-weight:400;transform:scaleX(1.0327);">capabilities</div>
<div class="t" id="b2_0" style="left:251.40px;top:278.79px;font-size:12.3px;color:#404040;font-weight:400;transform:scaleX(1.0023);">Technological advancements like</div>
<div class="t" id="b2_1" style="left:250.39px;top:294.29px;font-size:12.3px;color:#262626;font-weight:400;transform:scaleX(0.9853);">Synthetic Aperture Rada, Signals</div>
<div class="t" id="b2_2" style="left:250.39px;top:309.79px;font-size:12.3px;color:#262626;font-weight:400;transform:scaleX(0.9754);">intelligence (SIGINT) by drones, and</div>
<div class="t" id="b2_3" style="left:250.40px;top:325.29px;font-size:12.3px;color:#262626;font-weight:400;transform:scaleX(0.9977);">hypersonic armed drones result in</div>
<div class="t" id="b2_4" style="left:250.40px;top:340.19px;font-size:12.3px;color:#404040;font-weight:400;transform:scaleX(1.0103);">improved armed drone efficiency</div>
<div class="t" id="b2_5" style="left:250.39px;top:355.69px;font-size:12.3px;color:#404040;font-weight:400;transform:scaleX(1.0239);">and endurance</div>
<div class="t" id="b2_6" style="left:251.20px;top:374.29px;font-size:12.3px;color:#404040;font-weight:400;transform:scaleX(0.8800);">.</div>
<div class="t" id="b3_0" style="left:512.79px;top:199.99px;font-size:12.3px;color:#404040;font-weight:400;transform:scaleX(0.9972);">New product launches and</div>
<div class="t" id="b3_1" style="left:512.79px;top:215.19px;font-size:12.3px;color:#404040;font-weight:400;transform:scaleX(1.0116);">contracts are expected to offer</div>
<div class="t" id="b3_2" style="left:512.79px;top:230.49px;font-size:12.3px;color:#404040;font-weight:400;transform:scaleX(1.0189);">lucrative opportunities to</div>
<div class="t" id="b3_3" style="left:512.79px;top:245.79px;font-size:12.3px;color:#404040;font-weight:400;transform:scaleX(1.0064);">market players in the next five</div>
<div class="t" id="b3_4" style="left:513.80px;top:260.99px;font-size:12.3px;color:#404040;font-weight:400;transform:scaleX(0.9707);">years</div>
<div class="t" id="b4_0" style="left:513.80px;top:294.99px;font-size:12.3px;color:#404040;font-weight:400;transform:scaleX(0.9763);">The market growth in Asia</div>
<div class="t" id="b4_1" style="left:512.79px;top:310.19px;font-size:12.3px;color:#404040;font-weight:400;transform:scaleX(1.0196);">Pacific can be attributed</div>
<div class="t" id="b4_2" style="left:513.80px;top:325.49px;font-size:12.3px;color:#404040;font-weight:400;transform:scaleX(0.9919);">to the increasing focus on</div>
<div class="t" id="b4_3" style="left:512.80px;top:340.19px;font-size:12.3px;color:#404040;font-weight:400;transform:scaleX(1.0072);">development and procurement</div>
<div class="t" id="b4_4" style="left:512.79px;top:355.49px;font-size:12.3px;color:#404040;font-weight:400;transform:scaleX(1.0148);">of small military drones</div>
</body></html>
